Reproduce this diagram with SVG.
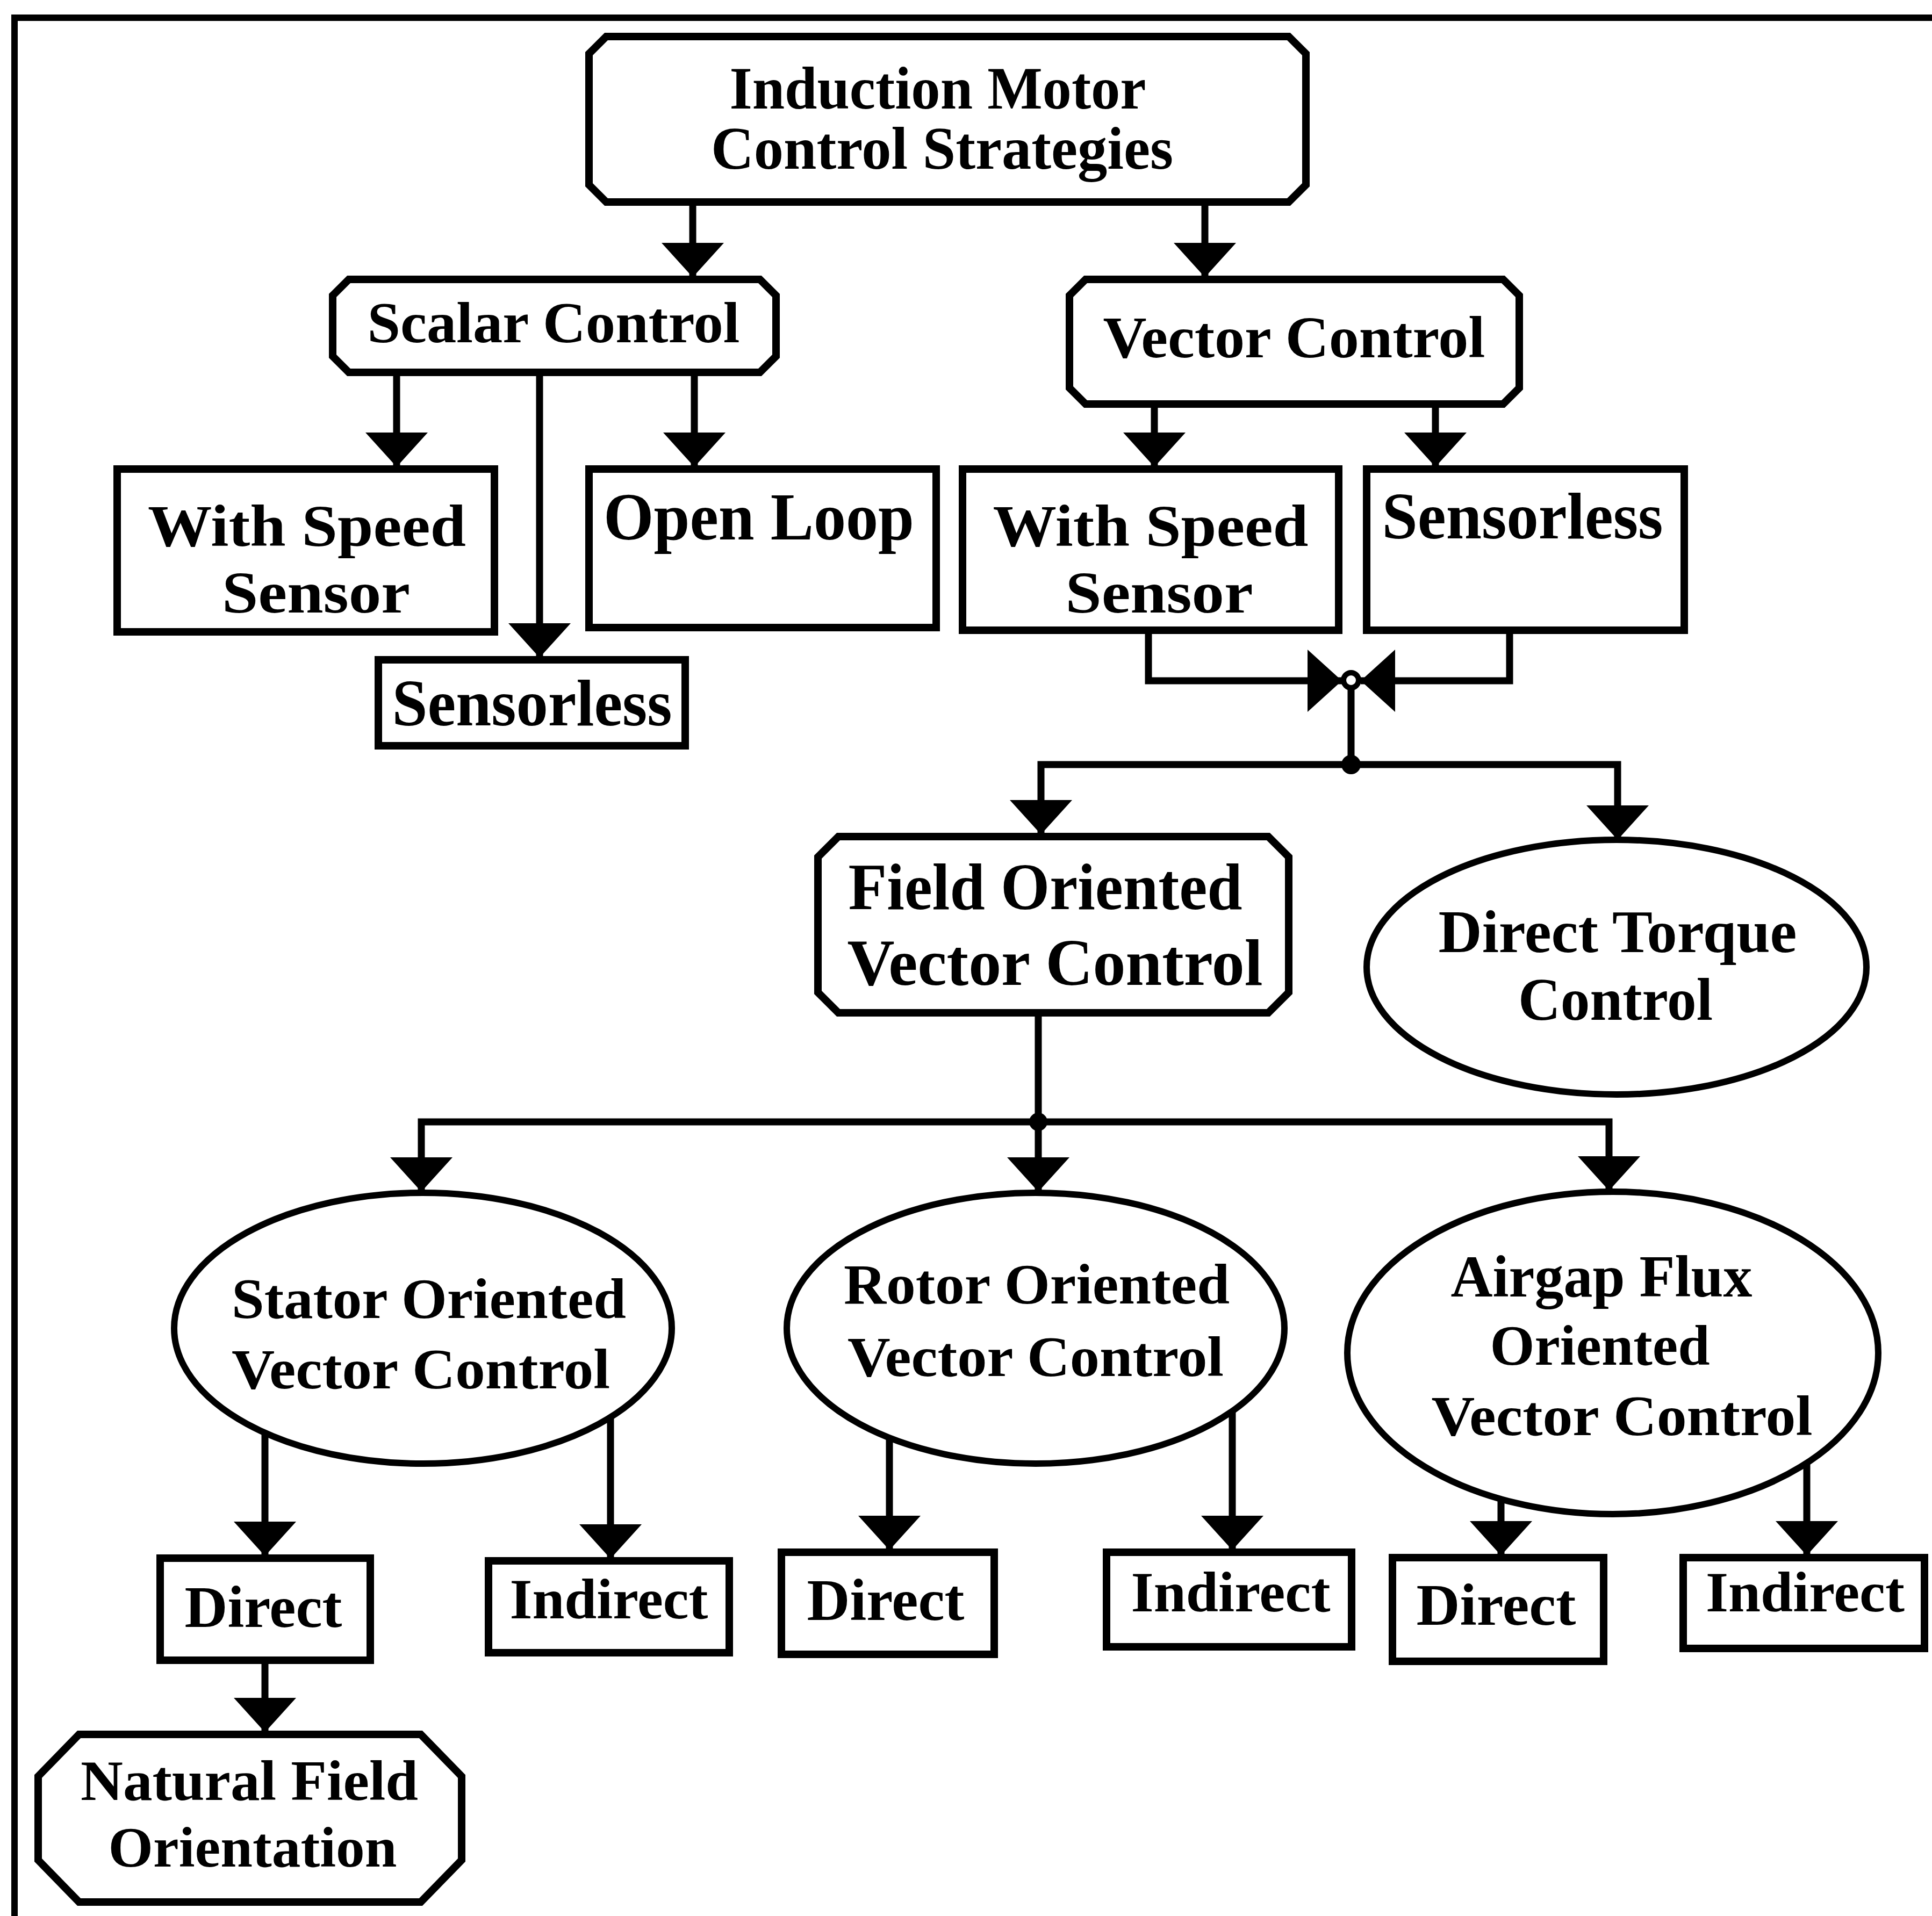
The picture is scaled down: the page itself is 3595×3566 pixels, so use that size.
<svg xmlns="http://www.w3.org/2000/svg" width="3595" height="3566" viewBox="0 0 3595 3566">
  <style>
    .frame { fill: none; stroke: #000; stroke-width: 12; }
    .box { fill: #fff; stroke: #000; stroke-width: 14; stroke-linejoin: miter; }
    .oval { fill: #fff; stroke: #000; stroke-width: 12; }
    .wire { fill: none; stroke: #000; stroke-width: 13; stroke-linejoin: miter; marker-end: url(#ah); }
    .plain { fill: none; stroke: #000; stroke-width: 13; }
    text { font-family: "Liberation Serif", "Times New Roman", serif; font-weight: bold; fill: #000; text-anchor: middle; }
  </style>
  <defs>
    <marker id="ah" markerUnits="userSpaceOnUse" markerWidth="64" markerHeight="116" viewBox="0 0 64 116" refX="64" refY="58" orient="auto">
      <path d="M0,0 L64,58 L0,116 Z" fill="#000"/>
    </marker>
  </defs>
  <rect width="3595" height="3566" fill="#fff"/>
  <path class="frame" d="M27,3566 V33 H3595"/>

  <!-- nodes -->
  <g id="root">
    <path class="box" d="M1128,68 H2398 L2430,100 V344 L2398,376 H1128 L1096,344 V100 Z"/>
    <text x="1745" y="202" font-size="112" textLength="775" lengthAdjust="spacingAndGlyphs">Induction Motor</text>
    <text x="1753" y="314" font-size="112" textLength="860" lengthAdjust="spacingAndGlyphs">Control Strategies</text>
  </g>
  <g id="scalar">
    <path class="box" d="M649,520 H1414 L1444,550 V663 L1414,693 H649 L619,663 V550 Z"/>
    <text x="1030" y="637" font-size="108" textLength="693" lengthAdjust="spacingAndGlyphs">Scalar Control</text>
  </g>
  <g id="vector">
    <path class="box" d="M2020,520 H2797 L2827,550 V722 L2797,752 H2020 L1990,722 V550 Z"/>
    <text x="2408" y="665" font-size="110" textLength="711" lengthAdjust="spacingAndGlyphs">Vector Control</text>
  </g>
  <g id="scalar-speed-sensor">
    <rect class="box" x="218" y="873" width="702" height="303"/>
    <text x="571" y="1016" font-size="110" textLength="592" lengthAdjust="spacingAndGlyphs">With Speed</text>
    <text x="588" y="1140" font-size="110" textLength="350" lengthAdjust="spacingAndGlyphs">Sensor</text>
  </g>
  <g id="scalar-open-loop">
    <rect class="box" x="1096" y="873" width="646" height="295"/>
    <text x="1412" y="1004" font-size="124" textLength="578" lengthAdjust="spacingAndGlyphs">Open Loop</text>
  </g>
  <g id="scalar-sensorless">
    <rect class="box" x="704" y="1228" width="571" height="160"/>
    <text x="990" y="1350" font-size="122" textLength="521" lengthAdjust="spacingAndGlyphs">Sensorless</text>
  </g>
  <g id="vector-speed-sensor">
    <rect class="box" x="1791" y="873" width="700" height="300"/>
    <text x="2141" y="1016" font-size="110" textLength="587" lengthAdjust="spacingAndGlyphs">With Speed</text>
    <text x="2157" y="1140" font-size="110" textLength="349" lengthAdjust="spacingAndGlyphs">Sensor</text>
  </g>
  <g id="vector-sensorless">
    <rect class="box" x="2543" y="873" width="591" height="300"/>
    <text x="2833" y="1002" font-size="122" textLength="523" lengthAdjust="spacingAndGlyphs">Sensorless</text>
  </g>
  <g id="field-oriented">
    <path class="box" d="M1560,1557 H2360 L2398,1595 V1847 L2360,1885 H1560 L1522,1847 V1595 Z"/>
    <text x="1945" y="1692" font-size="122" textLength="733" lengthAdjust="spacingAndGlyphs">Field Oriented</text>
    <text x="1963" y="1833" font-size="122" textLength="773" lengthAdjust="spacingAndGlyphs">Vector Control</text>
  </g>
  <g id="direct-torque">
    <ellipse class="oval" cx="3008" cy="1800" rx="465" ry="237"/>
    <text x="3010" y="1772" font-size="112" textLength="667" lengthAdjust="spacingAndGlyphs">Direct Torque</text>
    <text x="3006" y="1898" font-size="112" textLength="362" lengthAdjust="spacingAndGlyphs">Control</text>
  </g>
  <g id="stator-oriented">
    <ellipse class="oval" cx="787" cy="2472" rx="463" ry="252"/>
    <text x="798" y="2453" font-size="106" textLength="734" lengthAdjust="spacingAndGlyphs">Stator Oriented</text>
    <text x="783" y="2584" font-size="106" textLength="704" lengthAdjust="spacingAndGlyphs">Vector Control</text>
  </g>
  <g id="rotor-oriented">
    <ellipse class="oval" cx="1927" cy="2472" rx="463" ry="252"/>
    <text x="1929" y="2426" font-size="106" textLength="718" lengthAdjust="spacingAndGlyphs">Rotor Oriented</text>
    <text x="1927" y="2561" font-size="106" textLength="700" lengthAdjust="spacingAndGlyphs">Vector Control</text>
  </g>
  <g id="airgap-oriented">
    <ellipse class="oval" cx="3001" cy="2518" rx="494" ry="300"/>
    <text x="2980" y="2413" font-size="110" textLength="561" lengthAdjust="spacingAndGlyphs">Airgap Flux</text>
    <text x="2977" y="2540" font-size="106" textLength="409" lengthAdjust="spacingAndGlyphs">Oriented</text>
    <text x="3018" y="2671" font-size="106" textLength="709" lengthAdjust="spacingAndGlyphs">Vector Control</text>
  </g>
  <g id="stator-direct">
    <rect class="box" x="298" y="2900" width="391" height="190"/>
    <text x="490" y="3028" font-size="110" textLength="293" lengthAdjust="spacingAndGlyphs">Direct</text>
  </g>
  <g id="stator-indirect">
    <rect class="box" x="909" y="2905" width="448" height="171"/>
    <text x="1133" y="3012" font-size="106" textLength="369" lengthAdjust="spacingAndGlyphs">Indirect</text>
  </g>
  <g id="rotor-direct">
    <rect class="box" x="1454" y="2889" width="396" height="190"/>
    <text x="1648" y="3015" font-size="110" textLength="293" lengthAdjust="spacingAndGlyphs">Direct</text>
  </g>
  <g id="rotor-indirect">
    <rect class="box" x="2059" y="2889" width="456" height="176"/>
    <text x="2290" y="2999" font-size="106" textLength="371" lengthAdjust="spacingAndGlyphs">Indirect</text>
  </g>
  <g id="airgap-direct">
    <rect class="box" x="2591" y="2899" width="393" height="193"/>
    <text x="2784" y="3024" font-size="110" textLength="297" lengthAdjust="spacingAndGlyphs">Direct</text>
  </g>
  <g id="airgap-indirect">
    <rect class="box" x="3132" y="2899" width="449" height="169"/>
    <text x="3359" y="2999" font-size="106" textLength="370" lengthAdjust="spacingAndGlyphs">Indirect</text>
  </g>
  <g id="natural-field">
    <path class="box" d="M147,3228 H783 L859,3306 V3462 L783,3540 H147 L71,3462 V3306 Z"/>
    <text x="464" y="3350" font-size="105" textLength="628" lengthAdjust="spacingAndGlyphs">Natural Field</text>
    <text x="470" y="3474" font-size="105" textLength="537" lengthAdjust="spacingAndGlyphs">Orientation</text>
  </g>

  <!-- connectors -->
  <g id="connectors">
    <path class="wire" d="M1289,376 V516"/>
    <path class="wire" d="M2242,376 V516"/>
    <path class="wire" d="M738,693 V869"/>
    <path class="wire" d="M1004,693 V1224"/>
    <path class="wire" d="M1292,693 V869"/>
    <path class="wire" d="M2148,752 V869"/>
    <path class="wire" d="M2671,752 V869"/>
    <!-- merge of the two vector-control branches -->
    <path class="wire" d="M2137,1173 V1267 H2497"/>
    <path class="wire" d="M2809,1173 V1267 H2532"/>
    <circle cx="2514" cy="1266" r="14" fill="#fff" stroke="#000" stroke-width="10"/>
    <path class="plain" d="M2514,1280 V1423"/>
    <circle cx="2514" cy="1423" r="18" fill="#000"/>
    <path class="wire" d="M2514,1423 H1937 V1553"/>
    <path class="wire" d="M2514,1423 H3010 V1563"/>
    <!-- field oriented split -->
    <path class="plain" d="M1932,1885 V2088"/>
    <circle cx="1932" cy="2088" r="17" fill="#000"/>
    <path class="wire" d="M1932,2088 H784 V2218"/>
    <path class="wire" d="M1932,2088 V2218"/>
    <path class="wire" d="M1932,2088 H2994 V2216"/>
    <!-- leaves -->
    <path class="wire" d="M493,2667 V2896"/>
    <path class="wire" d="M1136,2638 V2901"/>
    <path class="wire" d="M1655,2676 V2885"/>
    <path class="wire" d="M2293,2626 V2885"/>
    <path class="wire" d="M2793,2790 V2895"/>
    <path class="wire" d="M3362,2723 V2895"/>
    <path class="wire" d="M493,3090 V3224"/>
  </g>
</svg>
